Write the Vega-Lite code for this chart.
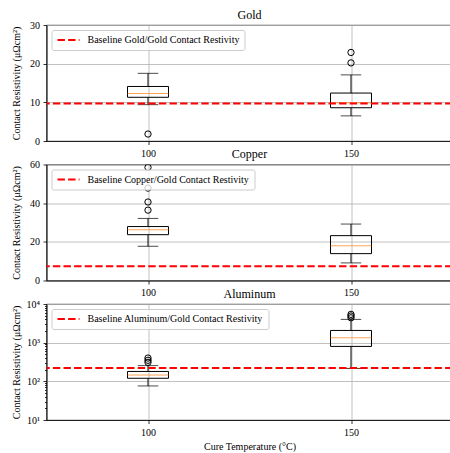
{
  "$schema": "https://vega.github.io/schema/vega-lite/v6.json",
  "autosize": {"type": "pad"},
  "padding": {"left": 10.5, "top": 8, "right": 0, "bottom": 0},
  "background": "white",
  "config": {
    "font": "Liberation Serif",
    "view": {"stroke": "black", "strokeWidth": 0.8},
    "axis": {
      "labelFont": "Liberation Serif", "labelFontSize": 10, "labelColor": "black",
      "titleFont": "Liberation Serif", "titleFontSize": 10, "titleFontWeight": "normal", "titleColor": "black",
      "tickSize": 3.5, "tickColor": "black", "tickWidth": 0.8, "labelPadding": 3.5,
      "domainColor": "black", "domainWidth": 0.8,
      "grid": true, "gridColor": "#b0b0b0", "gridWidth": 0.8
    },
    "axisY": {"titleX": -27, "titleBaseline": "alphabetic", "titleAngle": -90},
    "title": {"font": "Liberation Serif", "fontSize": 12, "fontWeight": "normal", "color": "black", "baseline": "alphabetic", "offset": -1.5, "frame": "group"},
    "legend": {
      "orient": "top-left", "offset": 4.7, "padding": 5,
      "fillColor": "rgba(255,255,255,0.8)", "strokeColor": "#cccccc", "cornerRadius": 2,
      "labelFont": "Liberation Serif", "labelFontSize": 10, "labelColor": "black", "labelLimit": 0,
      "symbolType": "M-1,0H4.5", "symbolSize": 64, "symbolStrokeWidth": 2, "symbolDash": [7.4, 3.2],
      "labelOffset": 21
    }
  },
  "datasets": {
    "box": [
      {"panel": "Gold", "temp": "100", "lo": 9.4, "q1": 11.3, "med": 12.3, "q3": 14.1, "hi": 17.5},
      {"panel": "Gold", "temp": "150", "lo": 6.5, "q1": 8.6, "med": 9.9, "q3": 12.4, "hi": 17.1},
      {"panel": "Copper", "temp": "100", "lo": 17.7, "q1": 23.7, "med": 26.3, "q3": 27.9, "hi": 32.1},
      {"panel": "Copper", "temp": "150", "lo": 9.1, "q1": 13.9, "med": 18.0, "q3": 23.2, "hi": 29.2},
      {"panel": "Aluminum", "temp": "100", "lo": 76, "q1": 120, "med": 145, "q3": 180, "hi": 255},
      {"panel": "Aluminum", "temp": "150", "lo": 215, "q1": 800, "med": 1340, "q3": 2070, "hi": 4000}
    ],
    "out": [
      {"panel": "Gold", "temp": "100", "v": 1.8},
      {"panel": "Gold", "temp": "150", "v": 20.2},
      {"panel": "Gold", "temp": "150", "v": 22.9},
      {"panel": "Copper", "temp": "100", "v": 36.4},
      {"panel": "Copper", "temp": "100", "v": 40.6},
      {"panel": "Copper", "temp": "100", "v": 47.8},
      {"panel": "Copper", "temp": "100", "v": 58.5},
      {"panel": "Aluminum", "temp": "100", "v": 310},
      {"panel": "Aluminum", "temp": "100", "v": 350},
      {"panel": "Aluminum", "temp": "100", "v": 400},
      {"panel": "Aluminum", "temp": "150", "v": 4400},
      {"panel": "Aluminum", "temp": "150", "v": 4900},
      {"panel": "Aluminum", "temp": "150", "v": 5400}
    ],
    "base": [
      {"panel": "Gold", "label": "Baseline Gold/Gold Contact Restivity", "v": 9.7},
      {"panel": "Copper", "label": "Baseline Copper/Gold Contact Restivity", "v": 7.4},
      {"panel": "Aluminum", "label": "Baseline Aluminum/Gold Contact Restivity", "v": 220}
    ]
  },
  "spacing": 23.5,
  "bounds": "flush",
  "resolve": {"scale": {"y": "independent", "color": "independent"}, "legend": {"color": "independent"}},
  "vconcat": [
    {
      "title": "Gold",
      "width": 406, "height": 116,
      "layer": [
        {"data": {"name": "box"}, "transform": [{"filter": "datum.panel === 'Gold'"}],
         "mark": {"type": "rule", "color": "black", "strokeWidth": 1},
         "encoding": {
           "x": {"field": "temp", "type": "ordinal", "scale": {"type": "point", "padding": 0.5}, "axis": {"title": null, "labelAngle": 0, "grid": true}},
           "y": {"field": "lo", "type": "quantitative", "scale": {"domain": [0, 30], "nice": false, "zero": false}, "axis": {"title": "Contact Resistivity (μΩcm²)", "values": [0, 10, 20, 30]}},
           "y2": {"field": "q1"}}},
        {"data": {"name": "box"}, "transform": [{"filter": "datum.panel === 'Gold'"}],
         "mark": {"type": "rule", "color": "black", "strokeWidth": 1},
         "encoding": {"x": {"field": "temp", "type": "ordinal", "axis": {"title": null, "labelAngle": 0, "grid": true}}, "y": {"field": "q3", "type": "quantitative", "axis": {"title": "Contact Resistivity (μΩcm²)", "values": [0, 10, 20, 30]}}, "y2": {"field": "hi"}}},
        {"data": {"name": "box"}, "transform": [{"filter": "datum.panel === 'Gold'"}],
         "mark": {"type": "tick", "color": "black", "size": 20.5, "thickness": 1},
         "encoding": {"x": {"field": "temp", "type": "ordinal", "axis": {"title": null, "labelAngle": 0, "grid": true}}, "y": {"field": "lo", "type": "quantitative", "axis": {"title": "Contact Resistivity (μΩcm²)", "values": [0, 10, 20, 30]}}}},
        {"data": {"name": "box"}, "transform": [{"filter": "datum.panel === 'Gold'"}],
         "mark": {"type": "tick", "color": "black", "size": 20.5, "thickness": 1},
         "encoding": {"x": {"field": "temp", "type": "ordinal", "axis": {"title": null, "labelAngle": 0, "grid": true}}, "y": {"field": "hi", "type": "quantitative", "axis": {"title": "Contact Resistivity (μΩcm²)", "values": [0, 10, 20, 30]}}}},
        {"data": {"name": "box"}, "transform": [{"filter": "datum.panel === 'Gold'"}],
         "mark": {"type": "bar", "fill": null, "fillOpacity": 0, "stroke": "black", "strokeWidth": 1, "size": 41},
         "encoding": {"x": {"field": "temp", "type": "ordinal", "axis": {"title": null, "labelAngle": 0, "grid": true}}, "y": {"field": "q1", "type": "quantitative", "axis": {"title": "Contact Resistivity (μΩcm²)", "values": [0, 10, 20, 30]}}, "y2": {"field": "q3"}}},
        {"data": {"name": "box"}, "transform": [{"filter": "datum.panel === 'Gold'"}],
         "mark": {"type": "tick", "color": "#ff7f0e", "size": 41, "thickness": 1},
         "encoding": {"x": {"field": "temp", "type": "ordinal", "axis": {"title": null, "labelAngle": 0, "grid": true}}, "y": {"field": "med", "type": "quantitative", "axis": {"title": "Contact Resistivity (μΩcm²)", "values": [0, 10, 20, 30]}}}},
        {"data": {"name": "out"}, "transform": [{"filter": "datum.panel === 'Gold'"}],
         "mark": {"type": "point", "shape": "circle", "filled": false, "stroke": "black", "strokeWidth": 1, "size": 40, "opacity": 1, "clip": true},
         "encoding": {"x": {"field": "temp", "type": "ordinal", "axis": {"title": null, "labelAngle": 0, "grid": true}}, "y": {"field": "v", "type": "quantitative", "axis": {"title": "Contact Resistivity (μΩcm²)", "values": [0, 10, 20, 30]}}}},
        {"data": {"name": "base"}, "transform": [{"filter": "datum.panel === 'Gold'"}],
         "mark": {"type": "rule", "strokeWidth": 2, "strokeDash": [7.4, 3.2]},
         "encoding": {"y": {"field": "v", "type": "quantitative", "axis": {"title": "Contact Resistivity (μΩcm²)", "values": [0, 10, 20, 30]}},
           "color": {"field": "label", "type": "nominal", "scale": {"range": ["red"]}, "legend": {"title": null}}}}
      ]
    },
    {
      "title": "Copper",
      "width": 406, "height": 116,
      "layer": [
        {"data": {"name": "box"}, "transform": [{"filter": "datum.panel === 'Copper'"}],
         "mark": {"type": "rule", "color": "black", "strokeWidth": 1},
         "encoding": {
           "x": {"field": "temp", "type": "ordinal", "scale": {"type": "point", "padding": 0.5}, "axis": {"title": null, "labelAngle": 0, "grid": true}},
           "y": {"field": "lo", "type": "quantitative", "scale": {"domain": [0, 60], "nice": false, "zero": false}, "axis": {"title": "Contact Resistivity (μΩcm²)", "values": [0, 20, 40, 60]}},
           "y2": {"field": "q1"}}},
        {"data": {"name": "box"}, "transform": [{"filter": "datum.panel === 'Copper'"}],
         "mark": {"type": "rule", "color": "black", "strokeWidth": 1},
         "encoding": {"x": {"field": "temp", "type": "ordinal", "axis": {"title": null, "labelAngle": 0, "grid": true}}, "y": {"field": "q3", "type": "quantitative", "axis": {"title": "Contact Resistivity (μΩcm²)", "values": [0, 20, 40, 60]}}, "y2": {"field": "hi"}}},
        {"data": {"name": "box"}, "transform": [{"filter": "datum.panel === 'Copper'"}],
         "mark": {"type": "tick", "color": "black", "size": 20.5, "thickness": 1},
         "encoding": {"x": {"field": "temp", "type": "ordinal", "axis": {"title": null, "labelAngle": 0, "grid": true}}, "y": {"field": "lo", "type": "quantitative", "axis": {"title": "Contact Resistivity (μΩcm²)", "values": [0, 20, 40, 60]}}}},
        {"data": {"name": "box"}, "transform": [{"filter": "datum.panel === 'Copper'"}],
         "mark": {"type": "tick", "color": "black", "size": 20.5, "thickness": 1},
         "encoding": {"x": {"field": "temp", "type": "ordinal", "axis": {"title": null, "labelAngle": 0, "grid": true}}, "y": {"field": "hi", "type": "quantitative", "axis": {"title": "Contact Resistivity (μΩcm²)", "values": [0, 20, 40, 60]}}}},
        {"data": {"name": "box"}, "transform": [{"filter": "datum.panel === 'Copper'"}],
         "mark": {"type": "bar", "fill": null, "fillOpacity": 0, "stroke": "black", "strokeWidth": 1, "size": 41},
         "encoding": {"x": {"field": "temp", "type": "ordinal", "axis": {"title": null, "labelAngle": 0, "grid": true}}, "y": {"field": "q1", "type": "quantitative", "axis": {"title": "Contact Resistivity (μΩcm²)", "values": [0, 20, 40, 60]}}, "y2": {"field": "q3"}}},
        {"data": {"name": "box"}, "transform": [{"filter": "datum.panel === 'Copper'"}],
         "mark": {"type": "tick", "color": "#ff7f0e", "size": 41, "thickness": 1},
         "encoding": {"x": {"field": "temp", "type": "ordinal", "axis": {"title": null, "labelAngle": 0, "grid": true}}, "y": {"field": "med", "type": "quantitative", "axis": {"title": "Contact Resistivity (μΩcm²)", "values": [0, 20, 40, 60]}}}},
        {"data": {"name": "out"}, "transform": [{"filter": "datum.panel === 'Copper'"}],
         "mark": {"type": "point", "shape": "circle", "filled": false, "stroke": "black", "strokeWidth": 1, "size": 40, "opacity": 1, "clip": true},
         "encoding": {"x": {"field": "temp", "type": "ordinal", "axis": {"title": null, "labelAngle": 0, "grid": true}}, "y": {"field": "v", "type": "quantitative", "axis": {"title": "Contact Resistivity (μΩcm²)", "values": [0, 20, 40, 60]}}}},
        {"data": {"name": "base"}, "transform": [{"filter": "datum.panel === 'Copper'"}],
         "mark": {"type": "rule", "strokeWidth": 2, "strokeDash": [7.4, 3.2]},
         "encoding": {"y": {"field": "v", "type": "quantitative", "axis": {"title": "Contact Resistivity (μΩcm²)", "values": [0, 20, 40, 60]}},
           "color": {"field": "label", "type": "nominal", "scale": {"range": ["red"]}, "legend": {"title": null}}}}
      ]
    },
    {
      "title": "Aluminum",
      "width": 406, "height": 116,
      "layer": [
        {"data": {"name": "box"}, "transform": [{"filter": "datum.panel === 'Aluminum'"}],
         "mark": {"type": "rule", "color": "black", "strokeWidth": 1},
         "encoding": {
           "x": {"field": "temp", "type": "ordinal", "scale": {"type": "point", "padding": 0.5}, "axis": {"title": "Cure Temperature (°C)", "titleY": 29, "titleBaseline": "alphabetic", "labelAngle": 0, "grid": true}},
           "y": {"field": "lo", "type": "quantitative", "scale": {"type": "log", "domain": [10, 10000], "nice": false},
             "axis": {"title": "Contact Resistivity (μΩcm²)",
               "values": [10, 20, 30, 40, 50, 60, 70, 80, 90, 100, 200, 300, 400, 500, 600, 700, 800, 900, 1000, 2000, 3000, 4000, 5000, 6000, 7000, 8000, 9000, 10000],
               "labelExpr": "datum.value == 10 ? '10¹' : datum.value == 100 ? '10²' : datum.value == 1000 ? '10³' : datum.value == 10000 ? '10⁴' : ''",
               "tickSize": {"condition": {"test": "indexof([10,100,1000,10000], datum.value) >= 0", "value": 3.5}, "value": 2},
               "gridOpacity": {"condition": {"test": "indexof([10,100,1000,10000], datum.value) >= 0", "value": 1}, "value": 0}}},
           "y2": {"field": "q1"}}},
        {"data": {"name": "box"}, "transform": [{"filter": "datum.panel === 'Aluminum'"}],
         "mark": {"type": "rule", "color": "black", "strokeWidth": 1},
         "encoding": {"x": {"field": "temp", "type": "ordinal"}, "y": {"field": "q3", "type": "quantitative", "title": "Contact Resistivity (μΩcm²)"}, "y2": {"field": "hi"}}},
        {"data": {"name": "box"}, "transform": [{"filter": "datum.panel === 'Aluminum'"}],
         "mark": {"type": "tick", "color": "black", "size": 20.5, "thickness": 1},
         "encoding": {"x": {"field": "temp", "type": "ordinal"}, "y": {"field": "lo", "type": "quantitative", "title": "Contact Resistivity (μΩcm²)"}}},
        {"data": {"name": "box"}, "transform": [{"filter": "datum.panel === 'Aluminum'"}],
         "mark": {"type": "tick", "color": "black", "size": 20.5, "thickness": 1},
         "encoding": {"x": {"field": "temp", "type": "ordinal"}, "y": {"field": "hi", "type": "quantitative", "title": "Contact Resistivity (μΩcm²)"}}},
        {"data": {"name": "box"}, "transform": [{"filter": "datum.panel === 'Aluminum'"}],
         "mark": {"type": "bar", "fill": null, "fillOpacity": 0, "stroke": "black", "strokeWidth": 1, "size": 41},
         "encoding": {"x": {"field": "temp", "type": "ordinal"}, "y": {"field": "q1", "type": "quantitative", "title": "Contact Resistivity (μΩcm²)"}, "y2": {"field": "q3"}}},
        {"data": {"name": "box"}, "transform": [{"filter": "datum.panel === 'Aluminum'"}],
         "mark": {"type": "tick", "color": "#ff7f0e", "size": 41, "thickness": 1},
         "encoding": {"x": {"field": "temp", "type": "ordinal"}, "y": {"field": "med", "type": "quantitative", "title": "Contact Resistivity (μΩcm²)"}}},
        {"data": {"name": "out"}, "transform": [{"filter": "datum.panel === 'Aluminum'"}],
         "mark": {"type": "point", "shape": "circle", "filled": false, "stroke": "black", "strokeWidth": 1, "size": 40, "opacity": 1, "clip": true},
         "encoding": {"x": {"field": "temp", "type": "ordinal"}, "y": {"field": "v", "type": "quantitative", "title": "Contact Resistivity (μΩcm²)"}}},
        {"data": {"name": "base"}, "transform": [{"filter": "datum.panel === 'Aluminum'"}],
         "mark": {"type": "rule", "strokeWidth": 2, "strokeDash": [7.4, 3.2]},
         "encoding": {"y": {"field": "v", "type": "quantitative", "title": "Contact Resistivity (μΩcm²)"},
           "color": {"field": "label", "type": "nominal", "scale": {"range": ["red"]}, "legend": {"title": null}}}}
      ]
    }
  ]
}
